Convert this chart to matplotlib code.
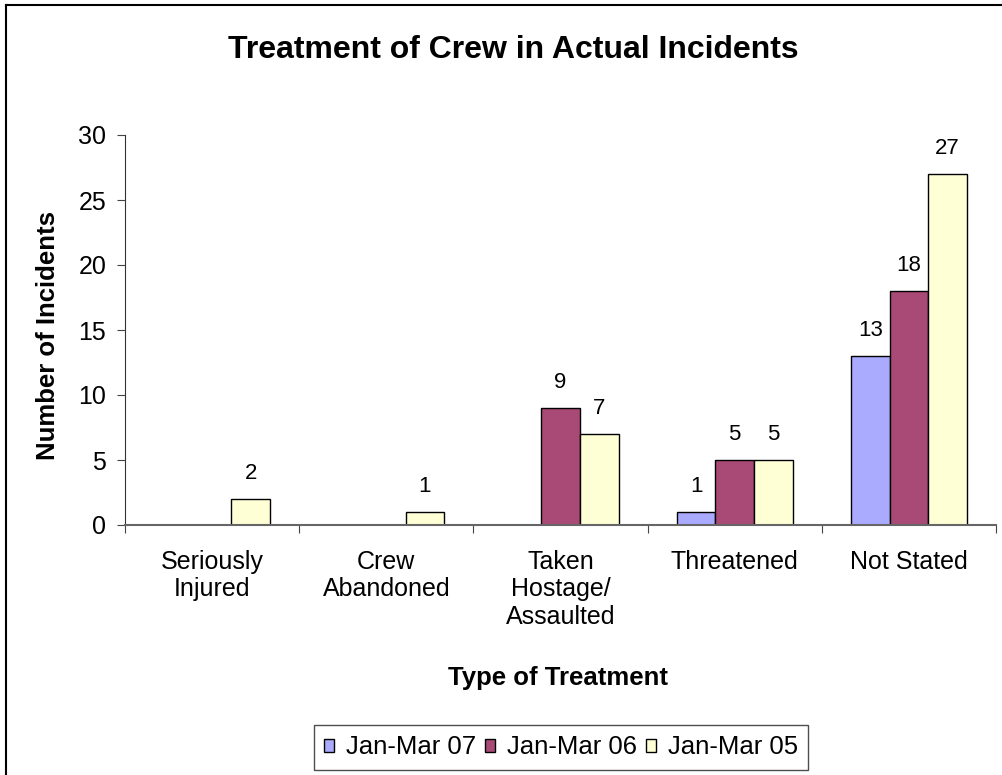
import matplotlib
matplotlib.use("Agg")
import matplotlib.pyplot as plt
from matplotlib.lines import Line2D
import numpy as np

plt.rcParams['font.family'] = ['Liberation Sans', 'DejaVu Sans']

categories = ["Seriously\nInjured", "Crew\nAbandoned", "Taken\nHostage/\nAssaulted", "Threatened", "Not Stated"]
series_names = ["Jan-Mar 07", "Jan-Mar 06", "Jan-Mar 05"]
jan_mar_07 = [0, 0, 0, 1, 13]
jan_mar_06 = [0, 0, 9, 5, 18]
jan_mar_05 = [2, 1, 7, 5, 27]
colors = ["#AAAAFF", "#A94A76", "#FFFFD5"]

W, H = 1002, 775
fig = plt.figure(figsize=(W / 100, H / 100), dpi=100)
ax = fig.add_axes([125 / W, 1 - 525 / H, (996 - 125) / W, (525 - 135) / H])

x = np.arange(len(categories))
w = 0.222
for k, (vals, c, name) in enumerate(zip([jan_mar_07, jan_mar_06, jan_mar_05], colors, series_names)):
    pos = x + (k - 1) * w
    ax.bar(pos, vals, width=w, color=c, edgecolor="black", linewidth=1.0, label=name)
    for p, v in zip(pos, vals):
        if v != 0:
            ax.annotate(str(v), (p, v), xytext=(0, 14.4), textcoords="offset points",
                        ha="center", va="baseline", fontsize=16)

ax.set_xlim(-0.5, len(categories) - 0.5)
ax.set_ylim(0, 30)
ax.set_yticks(range(0, 31, 5))
ax.tick_params(axis='y', labelsize=18, length=6, direction='out', color='#444444', pad=7.5)
ax.set_xticks(np.arange(-0.5, len(categories), 1.0))
ax.set_xticklabels([])
ax.tick_params(axis='x', which='major', length=6, direction='out', color='#444444')
ax.set_xticks(x, minor=True)
ax.set_xticklabels(categories, minor=True, fontsize=18, va='top', linespacing=1.18)
ax.tick_params(axis='x', which='minor', length=0, pad=18)

for s in ['top', 'right']:
    ax.spines[s].set_visible(False)
ax.spines['left'].set_color('#333333')
ax.spines['bottom'].set_color('#666666')
ax.spines['bottom'].set_linewidth(1.5)

fig.text(48 / W, 1 - 335.5 / H, "Number of Incidents", rotation=90, ha='center', va='center',
         fontsize=18.5, fontweight='bold')
fig.text(558 / W, 1 - 685 / H, "Type of Treatment", ha='center', va='baseline',
         fontsize=18.5, fontweight='bold')
fig.text(513 / W, 1 - 58 / H, "Treatment of Crew in Actual Incidents", ha='center', va='baseline',
         fontsize=23, fontweight='bold')

leg = fig.legend(loc='center', bbox_to_anchor=(561 / W, 1 - 747.5 / H), ncol=3, fontsize=18.5,
                 frameon=True, fancybox=False, edgecolor='#222222', handlelength=0.39, handleheight=0.39,
                 handletextpad=0.47, columnspacing=0.35, borderpad=0.39)
leg.get_frame().set_linewidth(1.0)

# outer chart frame (top and left visible)
fig.add_artist(Line2D([6 / W, 1.0], [1 - 5 / H, 1 - 5 / H], color='black', linewidth=1.5, transform=fig.transFigure))
fig.add_artist(Line2D([6 / W, 6 / W], [0, 1 - 5 / H], color='black', linewidth=1.5, transform=fig.transFigure))

fig.savefig("out.png", dpi=100)
